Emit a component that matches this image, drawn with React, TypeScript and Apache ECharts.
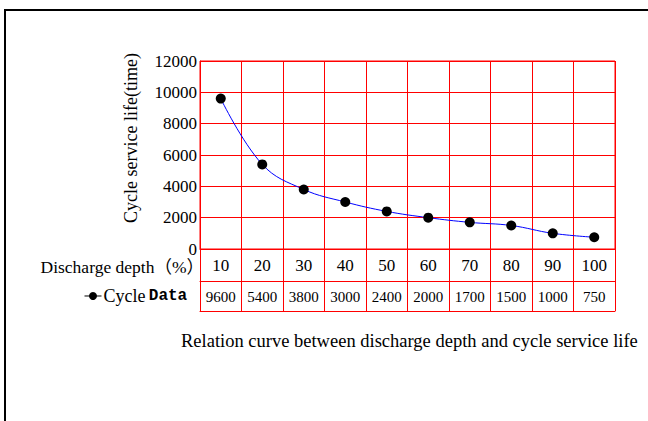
import React, { useEffect, useRef } from "react";
import * as echarts from "echarts";

const depthCategories = ["10", "20", "30", "40", "50", "60", "70", "80", "90", "100"];
const cycleValues = [9600, 5400, 3800, 3000, 2400, 2000, 1700, 1500, 1000, 750];
const yTicks = { min: 0, max: 12000, interval: 2000 };
const seriesName = "Cycle Data";
const rowHeader = "Discharge depth（%）";
const yAxisTitle = "Cycle service life(time)";
const chartTitle = "Relation curve between discharge depth and cycle service life";

const SERIF = "'Liberation Serif', 'Times New Roman', 'Noto Sans CJK SC', serif";
const MONO = "'Liberation Mono', 'DejaVu Sans Mono', monospace";
const RED = "#ff0000";

export default function App() {
  const ref = useRef<HTMLDivElement>(null);
  useEffect(() => {
    if (!ref.current) return;
    const chart = echarts.init(ref.current, null, { renderer: "svg" });
    chart.setOption({
      animation: false,
      backgroundColor: "#fff",
      grid: {
        left: 200,
        top: 61,
        width: 415,
        height: 188,
        show: true,
        borderColor: RED,
        borderWidth: 1,
        backgroundColor: "transparent",
      },
      title: {
        text: chartTitle,
        left: 181,
        top: 332,
        padding: 0,
        textStyle: { fontFamily: SERIF, fontSize: 18.5, fontWeight: "normal", color: "#000" },
      },
      legend: {
        data: [seriesName],
        left: 84,
        top: 287,
        padding: 0,
        itemWidth: 17,
        itemHeight: 10,
        itemGap: 0,
        lineStyle: { color: "#000", width: 1 },
        formatter: () => "{a|Cycle} {b|Data}",
        textStyle: {
          color: "#000",
          padding: [0, 0, 0, -3],
          rich: {
            a: { fontFamily: SERIF, fontSize: 18, color: "#000" },
            b: { fontFamily: MONO, fontSize: 16, fontWeight: "bold", color: "#000" },
          },
        },
      },
      xAxis: [
        {
          type: "category",
          data: depthCategories,
          boundaryGap: true,
          axisLine: { show: true, lineStyle: { color: RED, width: 1 } },
          axisTick: { show: true, interval: 0, length: 62, lineStyle: { color: RED, width: 1 } },
          axisLabel: { interval: 0, margin: 8, fontFamily: SERIF, fontSize: 17, color: "#000" },
          splitLine: { show: true, interval: 0, lineStyle: { color: RED, width: 1 } },
        },
        {
          type: "category",
          position: "bottom",
          offset: 32,
          data: cycleValues.map(String),
          boundaryGap: true,
          axisLine: { show: true, lineStyle: { color: RED, width: 1 } },
          axisTick: { show: false },
          axisLabel: { interval: 0, margin: 8, fontFamily: SERIF, fontSize: 15, color: "#000" },
          splitLine: { show: false },
        },
        {
          type: "category",
          position: "bottom",
          offset: 62,
          data: depthCategories,
          boundaryGap: true,
          axisLine: { show: true, lineStyle: { color: RED, width: 1 } },
          axisTick: { show: false },
          axisLabel: { show: false },
          splitLine: { show: false },
        },
      ],
      yAxis: {
        type: "value",
        min: yTicks.min,
        max: yTicks.max,
        interval: yTicks.interval,
        axisLine: { show: true, lineStyle: { color: RED, width: 1 } },
        axisTick: { show: false },
        axisLabel: {
          margin: 3,
          fontFamily: SERIF,
          fontSize: 17,
          color: "#000",
          formatter: (v: number) => String(v),
        },
        splitLine: { show: true, lineStyle: { color: RED, width: 1 } },
      },
      series: [
        {
          name: seriesName,
          type: "line",
          xAxisIndex: 0,
          data: cycleValues,
          smooth: 0.4,
          symbol: "circle",
          symbolSize: 10,
          itemStyle: { color: "#000" },
          lineStyle: { color: "#0000ff", width: 1 },
        },
      ],
      graphic: [
        { type: "rect", shape: { x: 4, y: 9, width: 644, height: 2 }, style: { fill: "#000" } },
        { type: "rect", shape: { x: 4, y: 9, width: 2, height: 412 }, style: { fill: "#000" } },
        {
          type: "text",
          x: 204,
          y: 267,
          style: {
            text: rowHeader,
            fontFamily: SERIF,
            fontSize: 17.5,
            fill: "#000",
            align: "right",
            verticalAlign: "middle",
          },
        },
        {
          type: "text",
          x: 131,
          y: 138,
          rotation: Math.PI / 2,
          style: {
            text: yAxisTitle,
            fontFamily: SERIF,
            fontSize: 18,
            fill: "#000",
            align: "center",
            verticalAlign: "middle",
          },
        },
      ],
    });
    return () => chart.dispose();
  }, []);
  return (
    <div
      ref={ref}
      style={{ position: "fixed", left: 0, top: 0, width: 648, height: 421 }}
    />
  );
}
